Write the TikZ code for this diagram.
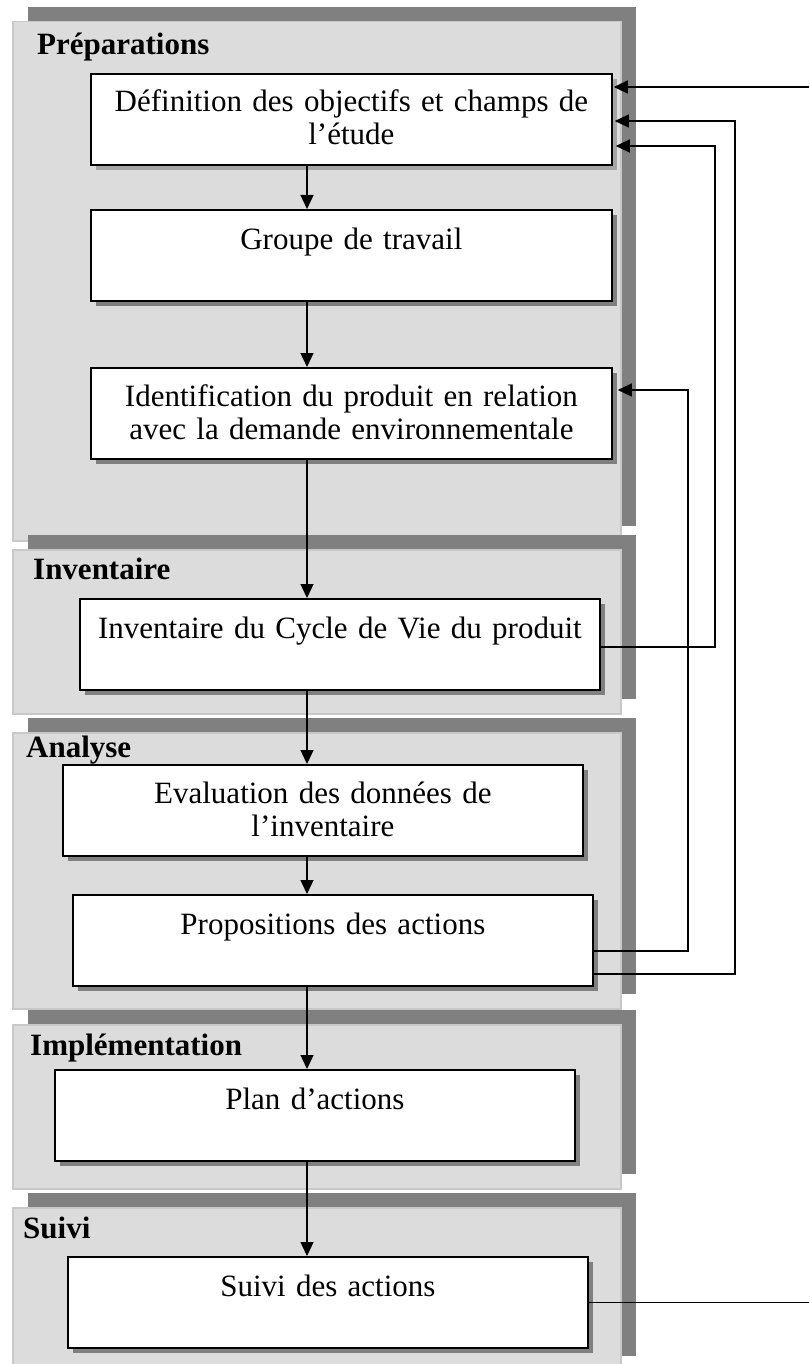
\documentclass[tikz,border=0pt]{standalone}
\usepackage{fontspec}
\setmainfont{Liberation Serif}
\usetikzlibrary{arrows.meta,shadows,calc}
\definecolor{panelfill}{RGB}{220,220,220}
\definecolor{panelline}{RGB}{200,200,200}
\definecolor{darkshadow}{RGB}{128,128,128}
\definecolor{hatchshadow}{RGB}{165,165,165}
\begin{document}
\begin{tikzpicture}[x=1pt,y=-1pt,
  panel/.style={anchor=north west, fill=panelfill, draw=panelline, line width=1.5pt, inner sep=0pt, minimum width=608pt,
    drop shadow={shadow xshift=15pt, shadow yshift=15pt, fill=darkshadow, opacity=1}},
  heading/.style={anchor=base west, font=\fontsize{31}{33}\selectfont\bfseries, inner sep=0pt},
  basebox/.style={anchor=north west, fill=white, draw=black, line width=1.8pt, minimum width=520pt, minimum height=91pt, inner sep=0pt},
  box/.style={basebox, drop shadow={shadow xshift=5pt, shadow yshift=-5pt, fill=darkshadow, opacity=1}},
  hbox/.style={basebox, drop shadow={shadow xshift=5pt, shadow yshift=-5pt, fill=hatchshadow, opacity=1}},
  txt/.style={anchor=base, font=\fontsize{31}{33}\selectfont, text width=510pt, align=center, inner sep=0pt},
  flow/.style={line width=1.3pt, -{Triangle[length=14pt,width=13pt]}},
  fb/.style={line width=1.3pt}]
\useasboundingbox (0,0) rectangle (809,1364);

% panels
\node[panel, minimum height=519pt] (p1) at (12,21) {};
\node[panel, minimum height=164pt] (p2) at (12,549) {};
\node[panel, minimum height=276pt] (p3) at (12,732) {};
\node[panel, minimum height=164pt] (p4) at (12,1024) {};
\node[panel, minimum height=163pt] (p5) at (12,1207) {};

% headings
\node[heading] (h1) at (37,55) {Préparations};
\node[heading] (h2) at (33,579) {Inventaire};
\node[heading] (h3) at (26,757) {Analyse};
\node[heading] (h4) at (30,1055) {Implémentation};
\node[heading] (h5) at (23,1238) {Suivi};

% boxes
\node[hbox, minimum width=521pt] (b1) at (90,73) {};
\node[box, minimum width=521pt] (b2) at (90,209) {};
\node[box, minimum width=521pt] (b3) at (90,367) {};
\node[box] (b4) at (79,598) {};
\node[box] (b5) at (62,764) {};
\node[box] (b6) at (72,894) {};
\node[box] (b7) at (54,1069) {};
\node[box] (b8) at (67,1256) {};

% texts
\node[txt] (t1) at ($(b1.north)+(0,39)$) {Définition des objectifs et champs de\\l’étude};
\node[txt] (t2) at ($(b2.north)+(0,40)$) {Groupe de travail};
\node[txt] (t3) at ($(b3.north)+(0,39)$) {Identification du produit en relation\\avec la demande environnementale};
\node[txt] (t4) at ($(b4.north)+(0,40)$) {Inventaire du Cycle de Vie du produit};
\node[txt] (t5) at ($(b5.north)+(0,39)$) {Evaluation des données de\\l’inventaire};
\node[txt] (t6) at ($(b6.north)+(0,40)$) {Propositions des actions};
\node[txt] (t7) at ($(b7.north)+(0,40)$) {Plan d’actions};
\node[txt] (t8) at ($(b8.north)+(0,40)$) {Suivi des actions};

% main flow
\coordinate (ax) at (307,0);
\draw[flow] (b1.south -| ax) -- (b2.north -| ax);
\draw[flow] (b2.south -| ax) -- (b3.north -| ax);
\draw[flow] (b3.south -| ax) -- (b4.north -| ax);
\draw[flow] (b4.south -| ax) -- (b5.north -| ax);
\draw[flow] (b5.south -| ax) -- (b6.north -| ax);
\draw[flow] (b6.south -| ax) -- (b7.north -| ax);
\draw[flow] (b7.south -| ax) -- (b8.north -| ax);

% feedback loops
\coordinate (r1) at (809,1302);
\draw[fb] (b8.east) -- (b8.east -| r1);
\coordinate (r2) at (809,87);
\draw[flow] (r2) -- ([xshift=1pt]r2 -| b1.east);

\coordinate (f2) at (735,974);
\coordinate (f2t) at (735,121);
\draw[flow] (b6.east |- f2) -- (f2) -- (f2t) -- ([xshift=2pt]f2t -| b1.east);

\coordinate (f3) at (688,951);
\coordinate (f3t) at (688,390);
\draw[flow] (b6.east |- f3) -- (f3) -- (f3t) -- ([xshift=5pt]f3t -| b3.east);

\coordinate (f4) at (715,647);
\coordinate (f4t) at (715,146);
\draw[flow] (b4.east |- f4) -- (f4) -- (f4t) -- ([xshift=3pt]f4t -| b1.east);
\end{tikzpicture}
\end{document}
